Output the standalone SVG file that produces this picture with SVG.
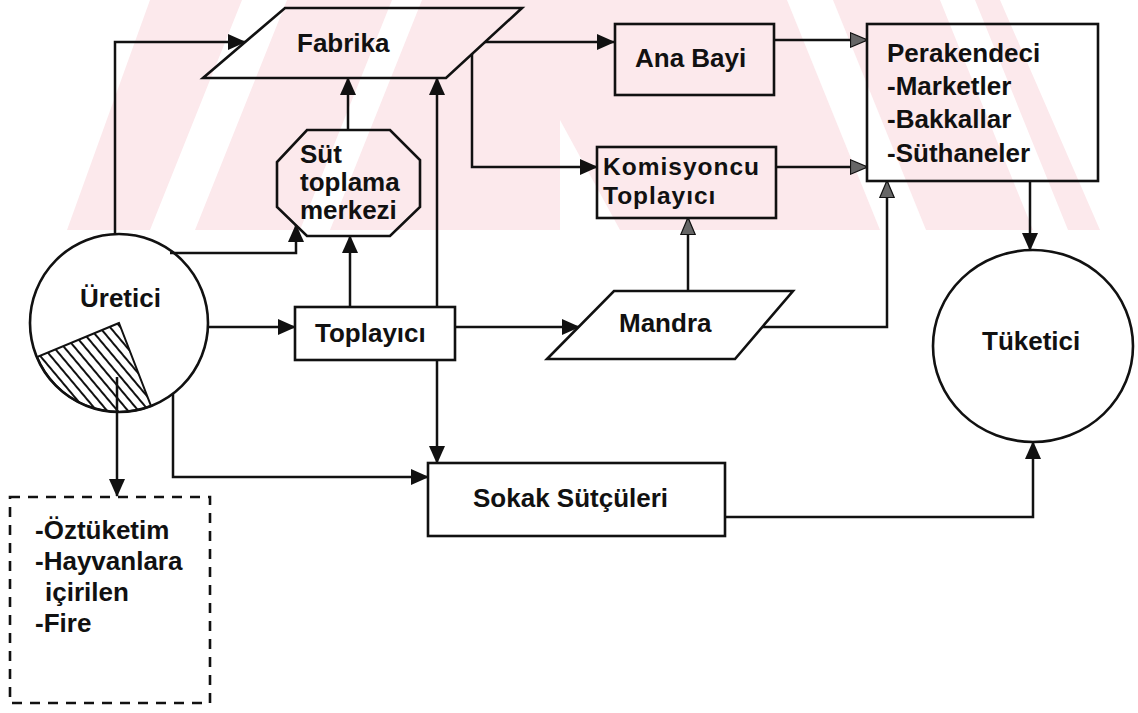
<svg xmlns="http://www.w3.org/2000/svg" width="1138" height="713" viewBox="0 0 1138 713">
<style>
.ln{fill:none;stroke:#111;stroke-width:2.5}
.nd{fill:none;stroke:#111;stroke-width:2.6}
.ndw{fill:#fff;stroke:#111;stroke-width:2.6}
.tx{font-family:"Liberation Sans",Arial,Helvetica,sans-serif;font-weight:bold;font-size:26px;fill:#111}
.tk{font-size:24.5px;letter-spacing:1px}
.wm{fill:#fce9ec}
.wg{fill:#fff}
</style>
<defs>
<marker id="ah" viewBox="0 0 18 16" refX="17" refY="8" markerWidth="18" markerHeight="16" markerUnits="userSpaceOnUse" orient="auto-start-reverse"><path d="M0,0 L18,8 L0,16 z" fill="#111"/></marker>
<marker id="ahg" viewBox="0 0 18 16" refX="17" refY="8" markerWidth="18" markerHeight="16" markerUnits="userSpaceOnUse" orient="auto-start-reverse"><path d="M0.5,0.8 L17.5,8 L0.5,15.2 z" fill="#666" stroke="#111" stroke-width="1.2"/></marker>
<pattern id="hatch" patternUnits="userSpaceOnUse" width="8" height="8" patternTransform="rotate(-40)"><line x1="2" y1="0" x2="2" y2="8" stroke="#111" stroke-width="2"/></pattern>
<clipPath id="wmclip"><rect x="0" y="0" width="1138" height="230"/></clipPath>
</defs>

<g id="watermark" clip-path="url(#wmclip)">
<polygon class="wm" points="67,230 150,0 1000,0 1100,230"/>
<polygon class="wg" points="150,230 195,230 287,0 242,0"/>
<polygon class="wg" points="300,230 330,230 422,0 392,0"/>
<polygon class="wg" points="787,0 833,0 926,230 880,230"/>
<polygon class="wg" points="940,0 975,0 1068,230 1033,230"/>
<polygon class="wg" points="560,230 620,230 560,120"/>
</g>

<g id="connectors">
<path class="ln" d="M115,234 V42 H245" marker-end="url(#ah)"/>
<path class="ln" d="M485,42 H614" marker-end="url(#ah)"/>
<path class="ln" d="M774,40 H867" marker-end="url(#ahg)"/>
<path class="ln" d="M472,54 V167 H597" marker-end="url(#ah)"/>
<path class="ln" d="M776,167 H867" marker-end="url(#ahg)"/>
<path class="ln" d="M1030,181 V250" marker-end="url(#ah)"/>
<path class="ln" d="M725,517 H1033 V442" marker-end="url(#ah)"/>
<path class="ln" d="M762,327 H887 V181" marker-end="url(#ahg)"/>
<path class="ln" d="M688,291 V218" marker-end="url(#ahg)"/>
<path class="ln" d="M455,327 H579" marker-end="url(#ah)"/>
<path class="ln" d="M208,327 H295" marker-end="url(#ah)"/>
<path class="ln" d="M350,307 V236" marker-end="url(#ah)"/>
<path class="ln" d="M348,130 V78" marker-end="url(#ah)"/>
<path class="ln" d="M170,253 H296 V225" marker-end="url(#ah)"/>
<path class="ln" d="M437,78 V463" marker-start="url(#ah)" marker-end="url(#ah)"/>
<path class="ln" d="M173,394 V477 H428" marker-end="url(#ah)"/>
<path class="ln" d="M117,377 V496" marker-end="url(#ah)"/>
</g>

<g id="fabrika">
<polygon class="nd" points="285,8 522,8 446,78 203,78"/>
<text class="tx" x="297" y="52">Fabrika</text>
</g>

<g id="sut-toplama-merkezi">
<polygon class="nd" points="307,130 390,130 420,160 420,207 390,236 307,236 277,207 277,162"/>
<text class="tx" x="300" y="163">Süt</text>
<text class="tx" x="300" y="191">toplama</text>
<text class="tx" x="300" y="219">merkezi</text>
</g>

<g id="ana-bayi">
<rect class="nd" x="615" y="24" width="159" height="71"/>
<text class="tx" x="635" y="67">Ana Bayi</text>
</g>

<g id="komisyoncu">
<rect class="nd" x="597" y="147" width="179" height="71"/>
<text class="tx tk" x="603" y="175">Komisyoncu</text>
<text class="tx tk" x="603" y="204">Toplayıcı</text>
</g>

<g id="perakendeci">
<rect class="nd" x="867" y="24" width="231" height="157"/>
<text class="tx" x="887" y="62">Perakendeci</text>
<text class="tx" x="887" y="95">-Marketler</text>
<text class="tx" x="887" y="128">-Bakkallar</text>
<text class="tx" x="887" y="162">-Süthaneler</text>
</g>

<g id="uretici">
<circle class="nd" cx="119" cy="323" r="89"/>
<path d="M119,323 L37,357 A89,89 0 0 0 151,406 Z" fill="url(#hatch)" stroke="#111" stroke-width="2"/>
<text class="tx" x="80" y="307">Üretici</text>
</g>

<g id="toplayici">
<rect class="ndw" x="295" y="307" width="160" height="53"/>
<text class="tx" x="315" y="342">Toplayıcı</text>
</g>

<g id="mandra">
<polygon class="ndw" points="614,291 793,291 735,359 547,359"/>
<text class="tx" x="619" y="332">Mandra</text>
</g>

<g id="tuketici">
<ellipse class="nd" cx="1033" cy="346" rx="100" ry="96"/>
<text class="tx" x="982" y="350">Tüketici</text>
</g>

<g id="sokak-sutculeri">
<rect class="ndw" x="428" y="463" width="297" height="73"/>
<text class="tx" x="473" y="507">Sokak Sütçüleri</text>
</g>

<g id="kayiplar">
<rect class="nd" x="10" y="497" width="200" height="206" stroke-dasharray="10 8"/>
<text class="tx" x="35" y="539">-Öztüketim</text>
<text class="tx" x="35" y="570">-Hayvanlara</text>
<text class="tx" x="45" y="601">içirilen</text>
<text class="tx" x="35" y="632">-Fire</text>
</g>
</svg>
